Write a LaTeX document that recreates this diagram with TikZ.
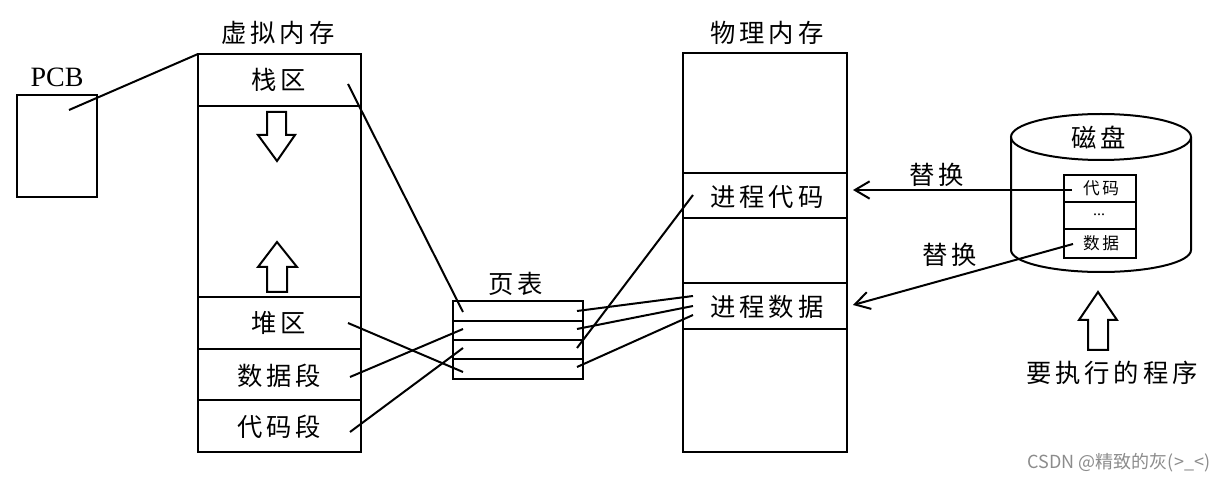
\documentclass[tikz,border=0pt]{standalone}
\usepackage{fontspec}
\setmainfont{Liberation Serif}
\newfontfamily\cjk[LetterSpace=15]{Noto Sans CJK SC}
\newfontfamily\cjkplain{Noto Sans CJK SC}
\usetikzlibrary{arrows.meta}
\begin{document}
\begin{tikzpicture}[x=0.75pt,y=-0.75pt,line width=1.5pt,line join=miter,
  lbl/.style={font=\cjk\fontsize{19}{21}\selectfont,inner sep=0pt},
  small/.style={font=\cjk\fontsize{12.5}{14}\selectfont,inner sep=0pt},
  hollow/.style={draw,fill=white,line width=1.5pt},
  link/.style={line width=1.5pt},
  swap/.style={line width=1.5pt,-{Straight Barb[length=11pt,width=13pt,line width=1.5pt]}}]
\useasboundingbox (0,0) rectangle (1232,484);

% PCB
\draw (17,95) rectangle (97,197);
\node[font=\fontsize{21}{24}\selectfont,inner sep=0pt] (pcbl) at (57,77) {PCB};
\coordinate (pcbin) at (69,110);
\coordinate (vmtl) at (198,54);
\draw[link] (pcbin) -- (vmtl);

% virtual memory
\node[lbl] (vml) at (278,33) {虚拟内存};
\draw (198,54) rectangle (361,452);
\draw (198,106) -- (361,106);
\draw (198,297) -- (361,297);
\draw (198,349) -- (361,349);
\draw (198,400) -- (361,400);
\node[lbl] (stack) at (279,80) {栈区};
\node[lbl] (heap) at (279,323) {堆区};
\node[lbl] (data) at (279,376) {数据段};
\node[lbl] (code) at (279,427) {代码段};
\draw[hollow] (267,112) -- (286,112) -- (286,135) -- (295,135) -- (277,161) -- (258,135) -- (267,135) -- cycle;
\draw[hollow] (277,242) -- (297,267) -- (287,267) -- (287,292) -- (267,292) -- (267,267) -- (258,267) -- cycle;

% page table
\node[lbl] (ptl) at (516,284) {页表};
\draw (453,301) rectangle (583,379);
\draw (453,321) -- (583,321);
\draw (453,340) -- (583,340);
\draw (453,359) -- (583,359);
\coordinate (pl1) at (463,312);
\coordinate (pl2) at (463,329);
\coordinate (pl3) at (463,348);
\coordinate (pl4) at (463,372);
\coordinate (pr1) at (577,311);
\coordinate (pr2) at (577,329);
\coordinate (pr3) at (577,348);
\coordinate (pr4) at (577,367);
\coordinate (sS) at (348,84);
\coordinate (sH) at (348,323);
\coordinate (sD) at (350,377);
\coordinate (sC) at (350,432);
\draw[link] (sS) -- (pl1);
\draw[link] (sH) -- (pl4);
\draw[link] (sD) -- (pl2);
\draw[link] (sC) -- (pl3);

% physical memory
\node[lbl] (pml) at (767,33) {物理内存};
\draw (683,53) rectangle (847,452);
\draw (683,173) -- (847,173);
\draw (683,218) -- (847,218);
\draw (683,283) -- (847,283);
\draw (683,329) -- (847,329);
\node[lbl] (pcode) at (767,197) {进程代码};
\node[lbl] (pdata) at (767,307) {进程数据};
\coordinate (tc) at (693,195);
\coordinate (td1) at (693,296);
\coordinate (td2) at (693,306);
\coordinate (td3) at (693,315);
\draw[link] (pr1) -- (td1);
\draw[link] (pr2) -- (td2);
\draw[link] (pr3) -- (tc);
\draw[link] (pr4) -- (td3);

% disk
\draw (1101,137) ellipse [x radius=90,y radius=23];
\draw (1011,137) -- (1011,250) arc[start angle=180,end angle=0,x radius=90,y radius=22] -- (1191,137);
\node[lbl] (diskl) at (1099,138) {磁盘};
\draw (1064,175) rectangle (1136,258);
\draw (1064,202) -- (1136,202);
\draw (1064,229) -- (1136,229);
\node[small] (dcode) at (1101,188) {代码};
\node[font=\fontsize{12}{14}\selectfont,inner sep=0pt] (ddots) at (1099,215) {...};
\node[small] (ddata) at (1101,243) {数据};
\coordinate (dc) at (1072,190);
\coordinate (dd) at (1073,244);
\coordinate (mc) at (853,190);
\coordinate (md) at (853,305);
\draw[swap] (dc) -- (mc);
\draw[swap] (dd) -- (md);
\node[lbl] (sw1) at (937,175) {替换};
\node[lbl] (sw2) at (950,255) {替换};

% program arrow
\draw[hollow] (1098,292) -- (1117,320) -- (1108,320) -- (1108,350) -- (1088,350) -- (1088,320) -- (1079,320) -- cycle;
\node[lbl] (prog) at (1112,373) {要执行的程序};

% watermark
\node[font=\cjkplain\fontsize{13.5}{15}\selectfont,text=black!45,inner sep=0pt] (wm) at (1119,463) {CSDN @精致的灰(>\_<)};
\end{tikzpicture}
\end{document}
